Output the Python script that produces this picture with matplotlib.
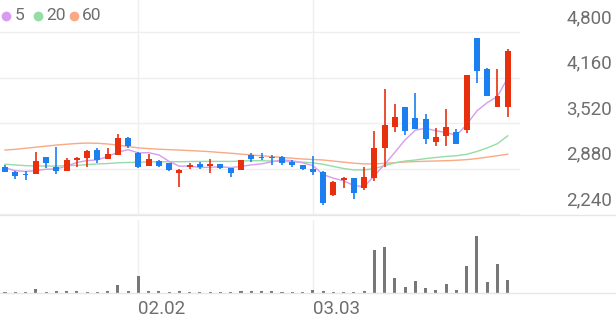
import matplotlib
matplotlib.use("Agg")
import matplotlib.pyplot as plt
import numpy as np

plt.rcParams['font.family'] = ['Roboto', 'DejaVu Sans']

# daily candles
opens  = [2905, 2835, 2805, 2800, 3037, 2905, 2845, 2995, 3025, 3140,
          3010, 3070, 3313, 3094, 2920, 2985, 2953, 2812, 2900, 2940,
          2915, 2940, 2883, 2860, 3070, 3046, 3046, 3046, 2965, 2930,
          2870, 2835, 2507, 2718, 2742, 2610, 2742, 3164, 3468, 3750,
          3586, 3577, 3258, 3337, 3398, 3422, 4712, 4276, 3750, 3750]
closes = [2835, 2780, 2790, 2990, 2953, 2845, 3000, 3030, 3130, 3000,
          3080, 3313, 3200, 2905, 3015, 2920, 2860, 2860, 2925, 2905,
          2945, 2883, 2812, 3000, 3014, 3023, 3023, 2953, 2930, 2870,
          2835, 2390, 2695, 2750, 2530, 2755, 3164, 3492, 3600, 3408,
          3436, 3295, 3318, 3468, 3220, 4196, 4252, 3900, 3900, 4537]
highs  = [2930, 2840, 2845, 3116, 3040, 3187, 3024, 3040, 3135, 3165,
          3173, 3366, 3320, 3112, 3085, 3000, 2960, 2870, 2960, 2975,
          3010, 2945, 2885, 3000, 3103, 3103, 3070, 3060, 3000, 2935,
          3057, 2840, 2700, 2760, 2745, 2897, 3408, 3999, 3788, 3750,
          3938, 3647, 3446, 3713, 3432, 4196, 4712, 4290, 4276, 4560]
lows   = [2830, 2730, 2720, 2800, 2890, 2800, 2845, 2905, 2900, 2953,
          3010, 3070, 3170, 2890, 2920, 2895, 2850, 2624, 2870, 2870,
          2812, 2880, 2765, 2860, 2978, 3000, 2930, 2930, 2897, 2865,
          2790, 2367, 2500, 2600, 2446, 2577, 2700, 2905, 3398, 3351,
          3436, 3220, 3200, 3200, 3220, 3384, 4080, 3900, 3750, 3600]

ma5  = [2891, 2850, 2838, 2850, 2870, 2872, 2916, 2964, 2992, 3001,
        3048, 3111, 3145, 3100, 3103, 3071, 2980, 2912, 2916, 2894,
        2899, 2904, 2894, 2909, 2931, 2946, 2974, 3003, 2989, 2960,
        2922, 2796, 2744, 2708, 2640, 2624, 2779, 2938, 3108, 3284,
        3420, 3446, 3411, 3385, 3347, 3499, 3691, 3807, 3894, 4157]
ma20 = [2940, 2930, 2920, 2915, 2915, 2915, 2920, 2925, 2935, 2945,
        2950, 2960, 2965, 2970, 2972, 2975, 2975, 2975, 2978, 2980,
        2980, 2980, 2980, 2985, 2990, 2990, 2985, 2980, 2975, 2970,
        2960, 2940, 2910, 2880, 2860, 2860, 2880, 2920, 2960, 2985,
        3000, 3020, 3035, 3050, 3060, 3080, 3120, 3170, 3230, 3340]
ma60 = [3140, 3150, 3165, 3180, 3195, 3210, 3222, 3232, 3238, 3235,
        3225, 3210, 3190, 3170, 3160, 3152, 3145, 3140, 3132, 3125,
        3117, 3105, 3095, 3083, 3070, 3060, 3048, 3036, 3025, 3014,
        3007, 3000, 2985, 2970, 2955, 2945, 2945, 2952, 2962, 2972,
        2978, 2982, 2986, 2990, 2996, 3005, 3020, 3040, 3060, 3082]

# volume (thousand shares)
volume = [14, 14, 14, 74, 26, 46, 40, 34, 26, 26,
          34, 154, 46, 334, 40, 34, 26, 34, 26, 26,
          26, 26, 26, 40, 46, 40, 34, 26, 26, 20,
          60, 46, 20, 20, 20, 40, 854, 920, 306, 120,
          246, 100, 66, 174, 60, 546, 1140, 214, 580, 266]

price_ticks = [2240, 2880, 3520, 4160, 4800]
date_ticks = {13: '02.02', 30: '03.03'}

RED = '#e8300e'
BLUE = '#1c7ff0'
GRID = '#efefef'
TXT = '#6e6e6e'

W, H = 616, 321
fig = plt.figure(figsize=(W / 100, H / 100), dpi=100)
ax = fig.add_axes([0, (H - 215) / H, 520 / W, 215 / H])
axv = fig.add_axes([0, (H - 293) / H, 520 / W, 73 / H])

n = len(closes)
x = np.arange(n)
xlim = (-5 / 10.26, 515 / 10.26)

for a in (ax, axv):
    a.set_xlim(*xlim)
    for s in a.spines.values():
        s.set_visible(False)
    a.set_xticks([])
    a.set_yticks([])
    for k in date_ticks:
        a.axvline(k, color=GRID, lw=1, zorder=0)

ax.set_ylim(2226, 5251)
for p in price_ticks:
    ax.axhline(p, color=GRID, lw=1, zorder=0)
    ax.annotate(f'{p:,}', xy=(612 / 520, p), xycoords=('axes fraction', 'data'),
                xytext=(0, 10), textcoords='offset points', ha='right', va='center',
                fontsize=13.5, color=TXT, annotation_clip=False)

o = np.array(opens); c = np.array(closes)
cols = [RED if cc >= oo else BLUE for oo, cc in zip(opens, closes)]
ax.vlines(x, lows, highs, colors=cols, lw=1.2, zorder=3)
body = np.maximum(np.abs(c - o), 18)
ax.bar(x, body, bottom=np.minimum(o, c), width=0.58, color=cols, zorder=4)

ax.plot(x, ma60, color='#f8a985', lw=1.0, zorder=2)
ax.plot(x, ma20, color='#95dca6', lw=1.0, zorder=2)
ax.plot(x, ma5, color='#d79cf0', lw=1.0, zorder=2)

axv.set_ylim(0, 1460)
axv.bar(x, volume, width=0.3, color='#777777', zorder=3)
for k, lab in date_ticks.items():
    axv.annotate(lab, xy=(k, 0), xycoords=('data', 'axes fraction'),
                 xytext=(0, -11.5), textcoords='offset points', ha='left', va='center',
                 fontsize=13.5, color=TXT, annotation_clip=False)

# panel separators
fig.add_artist(plt.Line2D([0, 1], [(H - 214.5) / H] * 2, color='#e6e6e6', lw=1))
fig.add_artist(plt.Line2D([0, 1], [(H - 293) / H] * 2, color='#e6e6e6', lw=1))

# legend
for dx, tx, col, lab in [(6, 15, '#d79cf0', '5'), (38, 46, '#95dca6', '20'),
                         (74, 82, '#f8a985', '60')]:
    fig.add_artist(plt.Line2D([dx / W], [1 - 15.5 / H], marker='o', markersize=6,
                              color=col, linestyle='none'))
    fig.text(tx / W, 1 - 15.5 / H, lab, color=TXT, fontsize=12.5, va='center', ha='left')

fig.savefig('out.png', dpi=100, facecolor='white')
